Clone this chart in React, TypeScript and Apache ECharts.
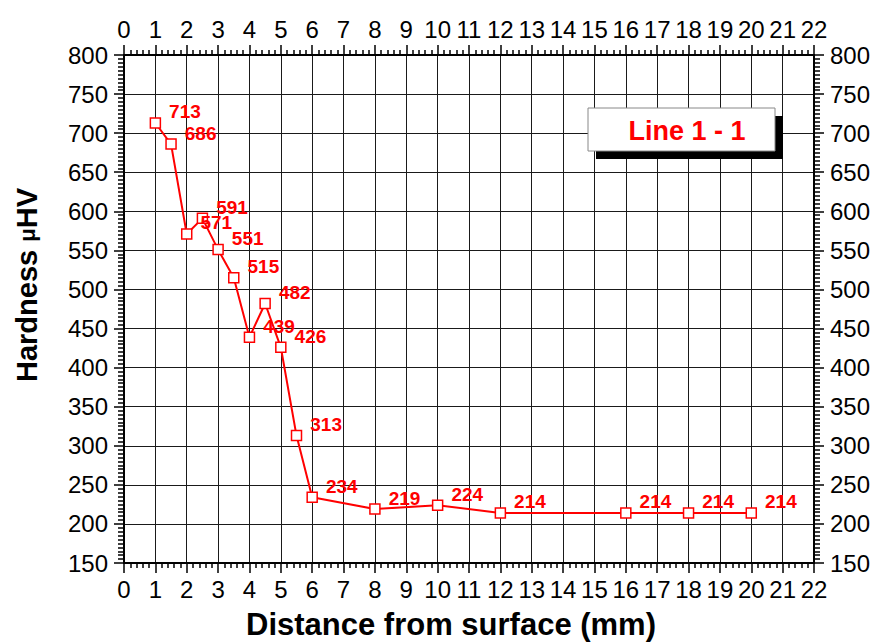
import React, { useEffect, useRef } from "react";
import * as echarts from "echarts";

const distances = [1, 1.5, 2, 2.5, 3, 3.5, 4, 4.5, 5, 5.5, 6, 8, 10, 12, 16, 18, 20];
const hardness = [713, 686, 571, 591, 551, 515, 439, 482, 426, 313, 234, 219, 224, 214, 214, 214, 214];
const seriesName = "Line 1 - 1";
const xTitle = "Distance from surface (mm)";

const FONT = "'Liberation Sans', Arial, sans-serif";

export default function App() {
  const ref = useRef<HTMLDivElement>(null);
  useEffect(() => {
    if (!ref.current) return;
    const chart = echarts.init(ref.current, undefined, { renderer: "svg" });
    const GRID = { left: 124, right: 73, top: 55, bottom: 81 };
    const xCommon = {
      type: "value",
      min: 0,
      max: 22,
      interval: 1,
      axisLine: { show: true, onZero: false, lineStyle: { color: "#000", width: 2 } },
      axisTick: { show: true, inside: false, length: 10, lineStyle: { color: "#000", width: 1.5 } },
      minorTick: { show: true, splitNumber: 5, length: 5, lineStyle: { color: "#000", width: 1.5 } },
      axisLabel: { show: true, fontSize: 24, color: "#000", fontFamily: FONT, margin: 14 },
    };
    const yCommon = {
      type: "value",
      min: 150,
      max: 800,
      interval: 50,
      axisLine: { show: true, onZero: false, lineStyle: { color: "#000", width: 2 } },
      axisTick: { show: true, inside: false, length: 10, lineStyle: { color: "#000", width: 1.5 } },
      minorTick: { show: true, splitNumber: 10, length: 6, lineStyle: { color: "#000", width: 1.5 } },
      axisLabel: { show: true, fontSize: 24, color: "#000", fontFamily: FONT, margin: 16 },
    };
    chart.setOption({
      animation: false,
      backgroundColor: "#fff",
      grid: GRID,
      xAxis: [
        {
          ...xCommon,
          position: "bottom",
          splitLine: { show: true, lineStyle: { color: "#1a1a1a", width: 1 } },
        },
        { ...xCommon, position: "top", splitLine: { show: false } },
      ],
      yAxis: [
        {
          ...yCommon,
          position: "left",
          splitLine: { show: true, lineStyle: { color: "#1a1a1a", width: 1 } },
        },
        { ...yCommon, position: "right", splitLine: { show: false } },
      ],
      series: [
        {
          name: seriesName,
          type: "line",
          xAxisIndex: 0,
          yAxisIndex: 0,
          data: distances.map((d, i) => [d, hardness[i]]),
          symbol: "rect",
          symbolSize: 10,
          showAllSymbol: true,
          lineStyle: { color: "#ff0000", width: 2 },
          itemStyle: { color: "#ffffff", borderColor: "#ff0000", borderWidth: 1.5 },
          label: {
            show: true,
            position: "right",
            distance: 8,
            offset: [0, -11],
            color: "#ff0000",
            fontWeight: "bold",
            fontSize: 19,
            fontFamily: FONT,
            formatter: (p: any) => String(p.value[1]),
          },
          z: 5,
        },
      ],
      graphic: [
        {
          type: "rect",
          shape: { x: 596, y: 116, width: 187, height: 43 },
          style: { fill: "#000" },
          z: 10,
        },
        {
          type: "rect",
          shape: { x: 588, y: 108, width: 187, height: 43 },
          style: { fill: "#fff", stroke: "#888", lineWidth: 1 },
          z: 11,
        },
        {
          type: "text",
          x: 687,
          y: 131,
          style: {
            text: seriesName,
            fill: "#ff0000",
            font: `bold 27px ${FONT}`,
            align: "center",
            verticalAlign: "middle",
          },
          z: 12,
        },
        {
          type: "text",
          x: 451,
          y: 624,
          style: {
            text: xTitle,
            fill: "#000",
            font: `bold 31px ${FONT}`,
            align: "center",
            verticalAlign: "middle",
          },
          z: 12,
        },
        {
          type: "text",
          x: 27,
          y: 285,
          rotation: Math.PI / 2,
          style: {
            text: "{a|Hardness }{b|μ}{a|HV}",
            align: "center",
            verticalAlign: "middle",
            rich: {
              a: { fill: "#000", font: `bold 29px ${FONT}` },
              b: { fill: "#000", font: `bold 22px ${FONT}` },
            },
          },
          z: 12,
        },
      ],
    });
    return () => chart.dispose();
  }, []);
  return <div ref={ref} style={{ width: 887, height: 644, position: "absolute", left: 0, top: 0 }} />;
}
